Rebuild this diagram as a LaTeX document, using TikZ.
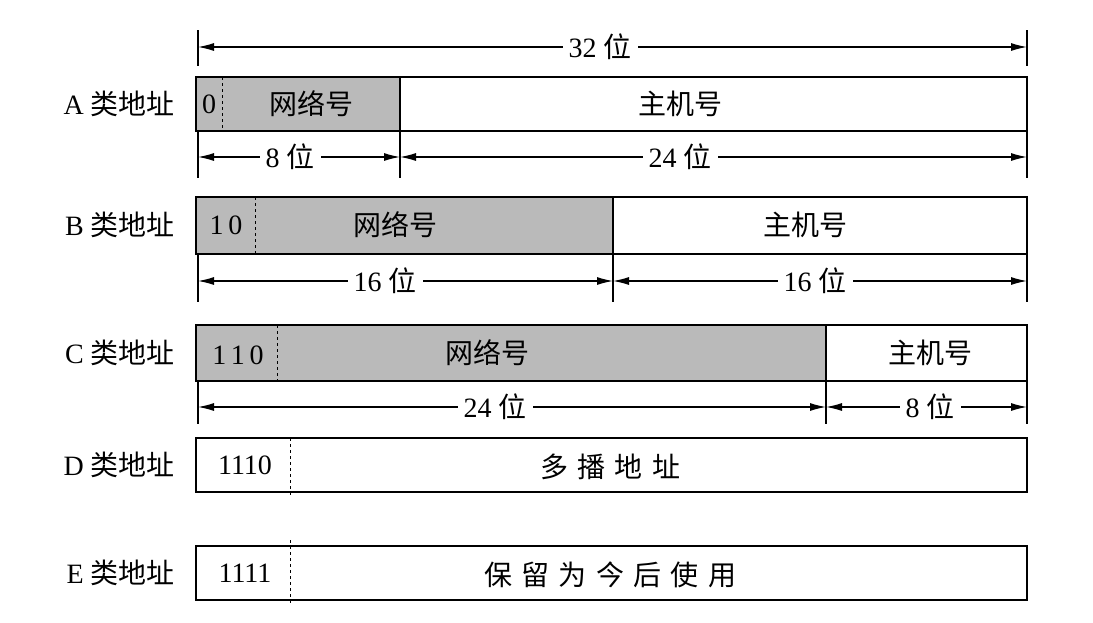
\documentclass[tikz,border=0pt]{standalone}
\usepackage{fontspec}
\setmainfont{Liberation Serif}
\newfontfamily\cjk{Noto Sans CJK SC}
\usetikzlibrary{arrows.meta}
\begin{document}
\begin{tikzpicture}[x=1pt,y=-1pt,
  txt/.style={font=\fontsize{28}{32}\selectfont, inner sep=2pt},
  lab/.style={txt, fill=white, inner xsep=6pt},
  gbox/.style={draw, line width=1.2pt, fill=black!27},
  wbox/.style={draw, line width=1.2pt},
  dim/.style={line width=1.2pt, {Latex[length=16pt,width=8pt]}-{Latex[length=16pt,width=8pt]}},
  tick/.style={line width=1.2pt},
  dsh/.style={dashed, line width=1pt}]
\useasboundingbox (0,0) rectangle (1093,622);
% top 32
\coordinate (t0) at (198,47); \coordinate (t1) at (1027,47);
\draw[tick] (198,30) -- (198,66); \draw[tick] (1027,30) -- (1027,66);
\draw[dim] (t0) -- (t1);
\node[lab] at (600,47) {32 {\cjk 位}};
% A
\node[txt,anchor=east] at (177,104) {A {\cjk 类地址}};
\draw[gbox] (196,77) rectangle (400,131);
\draw[wbox] (400,77) rectangle (1027,131);
\draw[dsh] (222,77) -- (222,131);
\node[txt] at (209,104) {0};
\node[txt] at (311,104) {\cjk 网络号};
\node[txt] at (680,104) {\cjk 主机号};
\draw[tick] (198,131) -- (198,178); \draw[tick] (400,131) -- (400,178); \draw[tick] (1027,131) -- (1027,178);
\draw[dim] (198,157) -- (400,157); \node[lab] at (290,157) {8 {\cjk 位}};
\draw[dim] (400,157) -- (1027,157); \node[lab] at (680,157) {24 {\cjk 位}};
% B
\node[txt,anchor=east] at (177,225) {B {\cjk 类地址}};
\draw[gbox] (196,197) rectangle (613,254);
\draw[wbox] (613,197) rectangle (1027,254);
\draw[dsh] (255,197) -- (255,254);
\node[txt] at (226,225) {1\,0};
\node[txt] at (395,225) {\cjk 网络号};
\node[txt] at (805,225) {\cjk 主机号};
\draw[tick] (198,254) -- (198,302); \draw[tick] (613,254) -- (613,302); \draw[tick] (1027,254) -- (1027,302);
\draw[dim] (198,281) -- (613,281); \node[lab] at (385,281) {16 {\cjk 位}};
\draw[dim] (613,281) -- (1027,281); \node[lab] at (815,281) {16 {\cjk 位}};
% C
\node[txt,anchor=east] at (177,353) {C {\cjk 类地址}};
\draw[gbox] (196,325) rectangle (826,381);
\draw[wbox] (826,325) rectangle (1027,381);
\draw[dsh] (277,325) -- (277,381);
\node[txt] at (238,355) {1\,1\,0};
\node[txt] at (487,353) {\cjk 网络号};
\node[txt] at (930,353) {\cjk 主机号};
\draw[tick] (198,381) -- (198,424); \draw[tick] (826,381) -- (826,424); \draw[tick] (1027,381) -- (1027,424);
\draw[dim] (198,407) -- (826,407); \node[lab] at (495,407) {24 {\cjk 位}};
\draw[dim] (826,407) -- (1027,407); \node[lab] at (930,407) {8 {\cjk 位}};
% D
\node[txt,anchor=east] at (177,465) {D {\cjk 类地址}};
\draw[wbox] (196,438) rectangle (1027,492);
\draw[dsh] (290,438) -- (290,496);
\node[txt] at (245,465) {1110};
\node[txt] at (610,467) {\cjk 多\,\,播\,\,地\,\,址};
% E
\node[txt,anchor=east] at (177,573) {E {\cjk 类地址}};
\draw[wbox] (196,546) rectangle (1027,600);
\draw[dsh] (290,540) -- (290,604);
\node[txt] at (245,573) {1111};
\node[txt] at (610,575) {\cjk 保\,\,留\,\,为\,\,今\,\,后\,\,使\,\,用};
\end{tikzpicture}
\end{document}
